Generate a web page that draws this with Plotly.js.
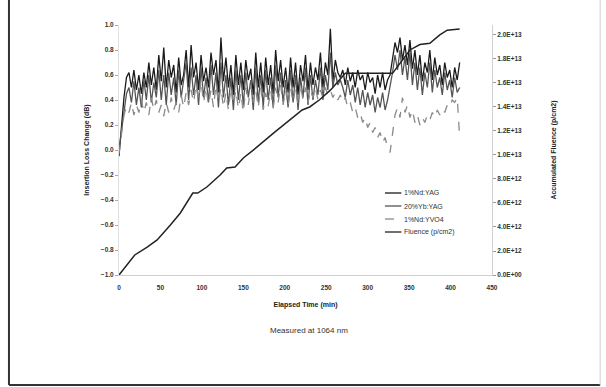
<!DOCTYPE html>
<html>
<head>
<meta charset="utf-8">
<script src="https://cdn.plot.ly/plotly-3.0.1.min.js"></script>
<style>
  html, body { margin: 0; padding: 0; background: #ffffff; }
  #chart { width: 606px; height: 387px; }
</style>
</head>
<body>
<div id="chart"></div>
<script>
// Elapsed time (min) for the insertion-loss series
const timeMin = [0,3,6,9,12,15,18,21,24,27,30,33,36,39,42,45,48,51,54,57,60,63,66,69,72,75,78,81,84,87,90,93,96,99,102,105,108,111,114,117,120,123,126,129,132,135,138,141,144,147,150,153,156,159,162,165,168,171,174,177,180,183,186,189,192,195,198,201,204,207,210,213,216,219,222,225,228,231,234,237,240,243,246,249,252,255,258,261,264,267,270,273,276,279,282,285,288,291,294,297,300,303,306,309,312,315,318,321,324,327,330,333,336,339,342,345,348,351,354,357,360,363,366,369,372,375,378,381,384,387,390,393,396,399,402,405,408,411];

// Insertion loss change (dB)
const ndYag = [
 -0.05,0.2,0.42,0.58,0.62,0.5,0.64,0.48,0.6,0.45,
 0.62,0.5,0.7,0.52,0.66,0.48,0.76,0.55,0.82,0.5,
 0.72,0.58,0.68,0.46,0.74,0.52,0.6,0.8,0.5,0.84,
 0.58,0.7,0.48,0.76,0.55,0.66,0.5,0.78,0.6,0.72,
 0.46,0.9,0.55,0.74,0.5,0.68,0.44,0.76,0.52,0.7,
 0.48,0.72,0.56,0.65,0.44,0.78,0.5,0.7,0.46,0.74,
 0.52,0.68,0.45,0.8,0.55,0.72,0.5,0.66,0.46,0.74,
 0.5,0.7,0.44,0.68,0.55,0.76,0.48,0.7,0.52,0.66,
 0.56,0.78,0.5,0.7,0.6,0.97,0.55,0.72,0.62,0.58,
 0.64,0.52,0.66,0.55,0.62,0.5,0.64,0.56,0.6,0.48,
 0.62,0.54,0.58,0.45,0.6,0.5,0.62,0.48,0.56,0.6,
 0.75,0.86,0.78,0.9,0.72,0.84,0.68,0.88,0.65,0.8,
 0.6,0.76,0.55,0.7,0.62,0.8,0.56,0.74,0.6,0.68,
 0.52,0.7,0.58,0.64,0.5,0.66,0.56,0.7];

const ybYag = [
 0.0,0.15,0.32,0.45,0.5,0.38,0.55,0.36,0.5,0.34,
 0.56,0.4,0.6,0.38,0.54,0.42,0.64,0.4,0.6,0.36,
 0.62,0.44,0.58,0.36,0.64,0.42,0.56,0.7,0.4,0.66,
 0.44,0.6,0.36,0.66,0.42,0.58,0.38,0.68,0.44,0.62,
 0.34,0.7,0.42,0.6,0.36,0.58,0.32,0.64,0.4,0.6,
 0.36,0.62,0.42,0.56,0.32,0.66,0.38,0.6,0.34,0.64,
 0.4,0.58,0.34,0.68,0.42,0.62,0.38,0.56,0.34,0.64,
 0.38,0.6,0.32,0.58,0.42,0.66,0.36,0.6,0.4,0.56,
 0.44,0.66,0.4,0.6,0.48,0.78,0.5,0.62,0.52,0.56,
 0.5,0.42,0.56,0.44,0.52,0.38,0.5,0.36,0.48,0.34,
 0.46,0.36,0.44,0.3,0.42,0.34,0.46,0.32,0.4,0.5,
 0.62,0.76,0.64,0.8,0.6,0.74,0.56,0.78,0.52,0.7,
 0.48,0.66,0.44,0.62,0.5,0.7,0.46,0.64,0.5,0.58,
 0.44,0.62,0.48,0.56,0.42,0.58,0.46,0.5];

const ndYvo4 = [
 -0.03,0.12,0.28,0.35,0.3,0.38,0.28,0.36,0.3,0.4,
 0.3,0.38,0.28,0.42,0.32,0.4,0.3,0.36,0.27,0.38,
 0.3,0.42,0.32,0.38,0.3,0.44,0.34,0.46,0.36,0.48,
 0.38,0.52,0.4,0.55,0.38,0.5,0.36,0.48,0.34,0.52,
 0.38,0.5,0.34,0.46,0.32,0.5,0.36,0.48,0.33,0.46,
 0.3,0.5,0.36,0.52,0.38,0.48,0.34,0.5,0.32,0.46,
 0.35,0.48,0.33,0.5,0.38,0.52,0.36,0.48,0.35,0.5,
 0.38,0.5,0.36,0.52,0.4,0.5,0.38,0.48,0.42,0.5,
 0.4,0.48,0.42,0.5,0.44,0.48,0.42,0.46,0.4,0.44,
 0.38,0.42,0.34,0.38,0.3,0.34,0.26,0.3,0.22,0.26,
 0.18,0.22,0.14,0.18,0.1,0.14,0.06,0.1,0.02,-0.02,
 0.12,0.28,0.34,0.26,0.42,0.3,0.36,0.26,0.32,0.22,
 0.28,0.2,0.26,0.22,0.28,0.24,0.3,0.26,0.32,0.28,
 0.33,0.3,0.36,0.34,0.4,0.38,0.42,0.1];

// Accumulated fluence (p/cm2)
const fluenceTime = [0,19,34,46,62,74,89,95,106,122,130,140,150,162,186,209,221,230,242,255,263,273,330,351,363,375,387,396,411];
const fluence = [0,1.67e12,2.33e12,2.92e12,4.17e12,5.17e12,6.83e12,6.83e12,7.33e12,8.33e12,8.92e12,9.0e12,9.75e12,10.4e12,11.8e12,13.1e12,13.75e12,14.0e12,14.6e12,15.4e12,16.0e12,16.8e12,16.8e12,18.75e12,19.2e12,19.3e12,20.0e12,20.4e12,20.5e12];

// Tick labels and names
const xTicks = [0,50,100,150,200,250,300,350,400,450];
const y2TickVals = [0,2e12,4e12,6e12,8e12,1e13,1.2e13,1.4e13,1.6e13,1.8e13,2e13];
const y2TickText = ['0.0E+00','2.0E+12','4.0E+12','6.0E+12','8.0E+12','1.0E+13','1.2E+13','1.4E+13','1.6E+13','1.8E+13','2.0E+13'];
const seriesNames = ['1%Nd:YAG','20%Yb:YAG','1%Nd:YVO4','Fluence (p/cm2)'];

const FONT = 'Liberation Sans, Arial, sans-serif';
const colors = ['#1a1a1a', '#545454', '#8a8a8a', '#222222'];
const dashes = ['solid', 'solid', 'dash', 'solid'];
const widths = [1.3, 1.3, 1.3, 1.5];

const traces = [
  {x: timeMin, y: ndYag, name: seriesNames[0], type: 'scatter', mode: 'lines',
   line: {color: colors[0], width: widths[0], dash: dashes[0]}},
  {x: timeMin, y: ybYag, name: seriesNames[1], type: 'scatter', mode: 'lines',
   line: {color: colors[1], width: widths[1], dash: dashes[1]}},
  {x: timeMin, y: ndYvo4, name: seriesNames[2], type: 'scatter', mode: 'lines',
   line: {color: colors[2], width: widths[2], dash: dashes[2]}},
  {x: fluenceTime, y: fluence, name: seriesNames[3], type: 'scatter', mode: 'lines',
   yaxis: 'y2', line: {color: colors[3], width: widths[3], dash: dashes[3]}}
];

const tickFont = {family: FONT, size: 6.5, color: '#333', weight: 'bold'};
const titleFont = {family: FONT, size: 7, color: '#222', weight: 'bold'};

// custom compact legend (paper coordinates)
const legendRowsY = [0.328, 0.276, 0.224, 0.172];
const legendShapes = seriesNames.map((n, i) => ({
  type: 'line', xref: 'paper', yref: 'paper', x0: 0.713, x1: 0.757,
  y0: legendRowsY[i], y1: legendRowsY[i],
  line: {color: colors[i], width: 1.3, dash: dashes[i]}
}));
const legendAnn = seriesNames.map((n, i) => ({
  text: n, xref: 'paper', yref: 'paper', x: 0.76, y: legendRowsY[i],
  xanchor: 'left', yanchor: 'middle', showarrow: false,
  font: {family: FONT, size: 7, color: '#333'}
}));

const layout = {
  width: 606, height: 387,
  margin: {l: 119, r: 114, t: 25, b: 112},
  paper_bgcolor: '#ffffff', plot_bgcolor: '#ffffff',
  showlegend: false,
  xaxis: {range: [0, 450], tickvals: xTicks, showgrid: false, zeroline: false,
          showline: true, linecolor: '#cfcfcf', linewidth: 1, ticks: '',
          ticklabelstandoff: 6, tickfont: tickFont,
          title: {text: 'Elapsed Time (min)', font: titleFont, standoff: 12}},
  yaxis: {range: [-1, 1], dtick: 0.2, tick0: -1, tickformat: '.1f',
          showgrid: false, zeroline: false, showline: true, linecolor: '#e0e0e0',
          ticks: 'outside', ticklen: 3, tickcolor: '#aaa',
          tickfont: tickFont,
          title: {text: 'Insertion Loss Change (dB)', font: titleFont, standoff: 10}},
  yaxis2: {overlaying: 'y', side: 'right', range: [0, 2.083e13],
           tickvals: y2TickVals, ticktext: y2TickText,
           showgrid: false, zeroline: false, showline: true, linecolor: '#d0d0d0',
           ticks: 'outside', ticklen: 3, tickcolor: '#999',
           minor: {ticks: 'outside', ticklen: 2, tickcolor: '#bbb', nticks: 3},
           tickfont: tickFont,
           title: {text: 'Accumulated Fluence (p/cm2)', font: titleFont, standoff: 30}},
  annotations: [
    {text: 'Measured at 1064 nm', xref: 'paper', yref: 'paper', x: 0.51, y: -0.22,
     xanchor: 'center', yanchor: 'middle', showarrow: false,
     font: {family: FONT, size: 8, color: '#333'}}
  ].concat(legendAnn),
  shapes: [
    {type: 'line', xref: 'paper', yref: 'paper', x0: -0.295, x1: -0.295, y0: 1.2, y1: -0.44,
     line: {color: '#333', width: 2}},
    {type: 'line', xref: 'paper', yref: 'paper', x0: -0.295, x1: 1.29, y0: -0.44, y1: -0.44,
     line: {color: '#333', width: 2}},
    {type: 'line', xref: 'paper', yref: 'paper', x0: 1.29, x1: 1.29, y0: 1.2, y1: -0.44,
     line: {color: '#cccccc', width: 1}}
  ].concat(legendShapes)
};

Plotly.newPlot('chart', traces, layout, {displayModeBar: false, staticPlot: true});
</script>
</body>
</html>
